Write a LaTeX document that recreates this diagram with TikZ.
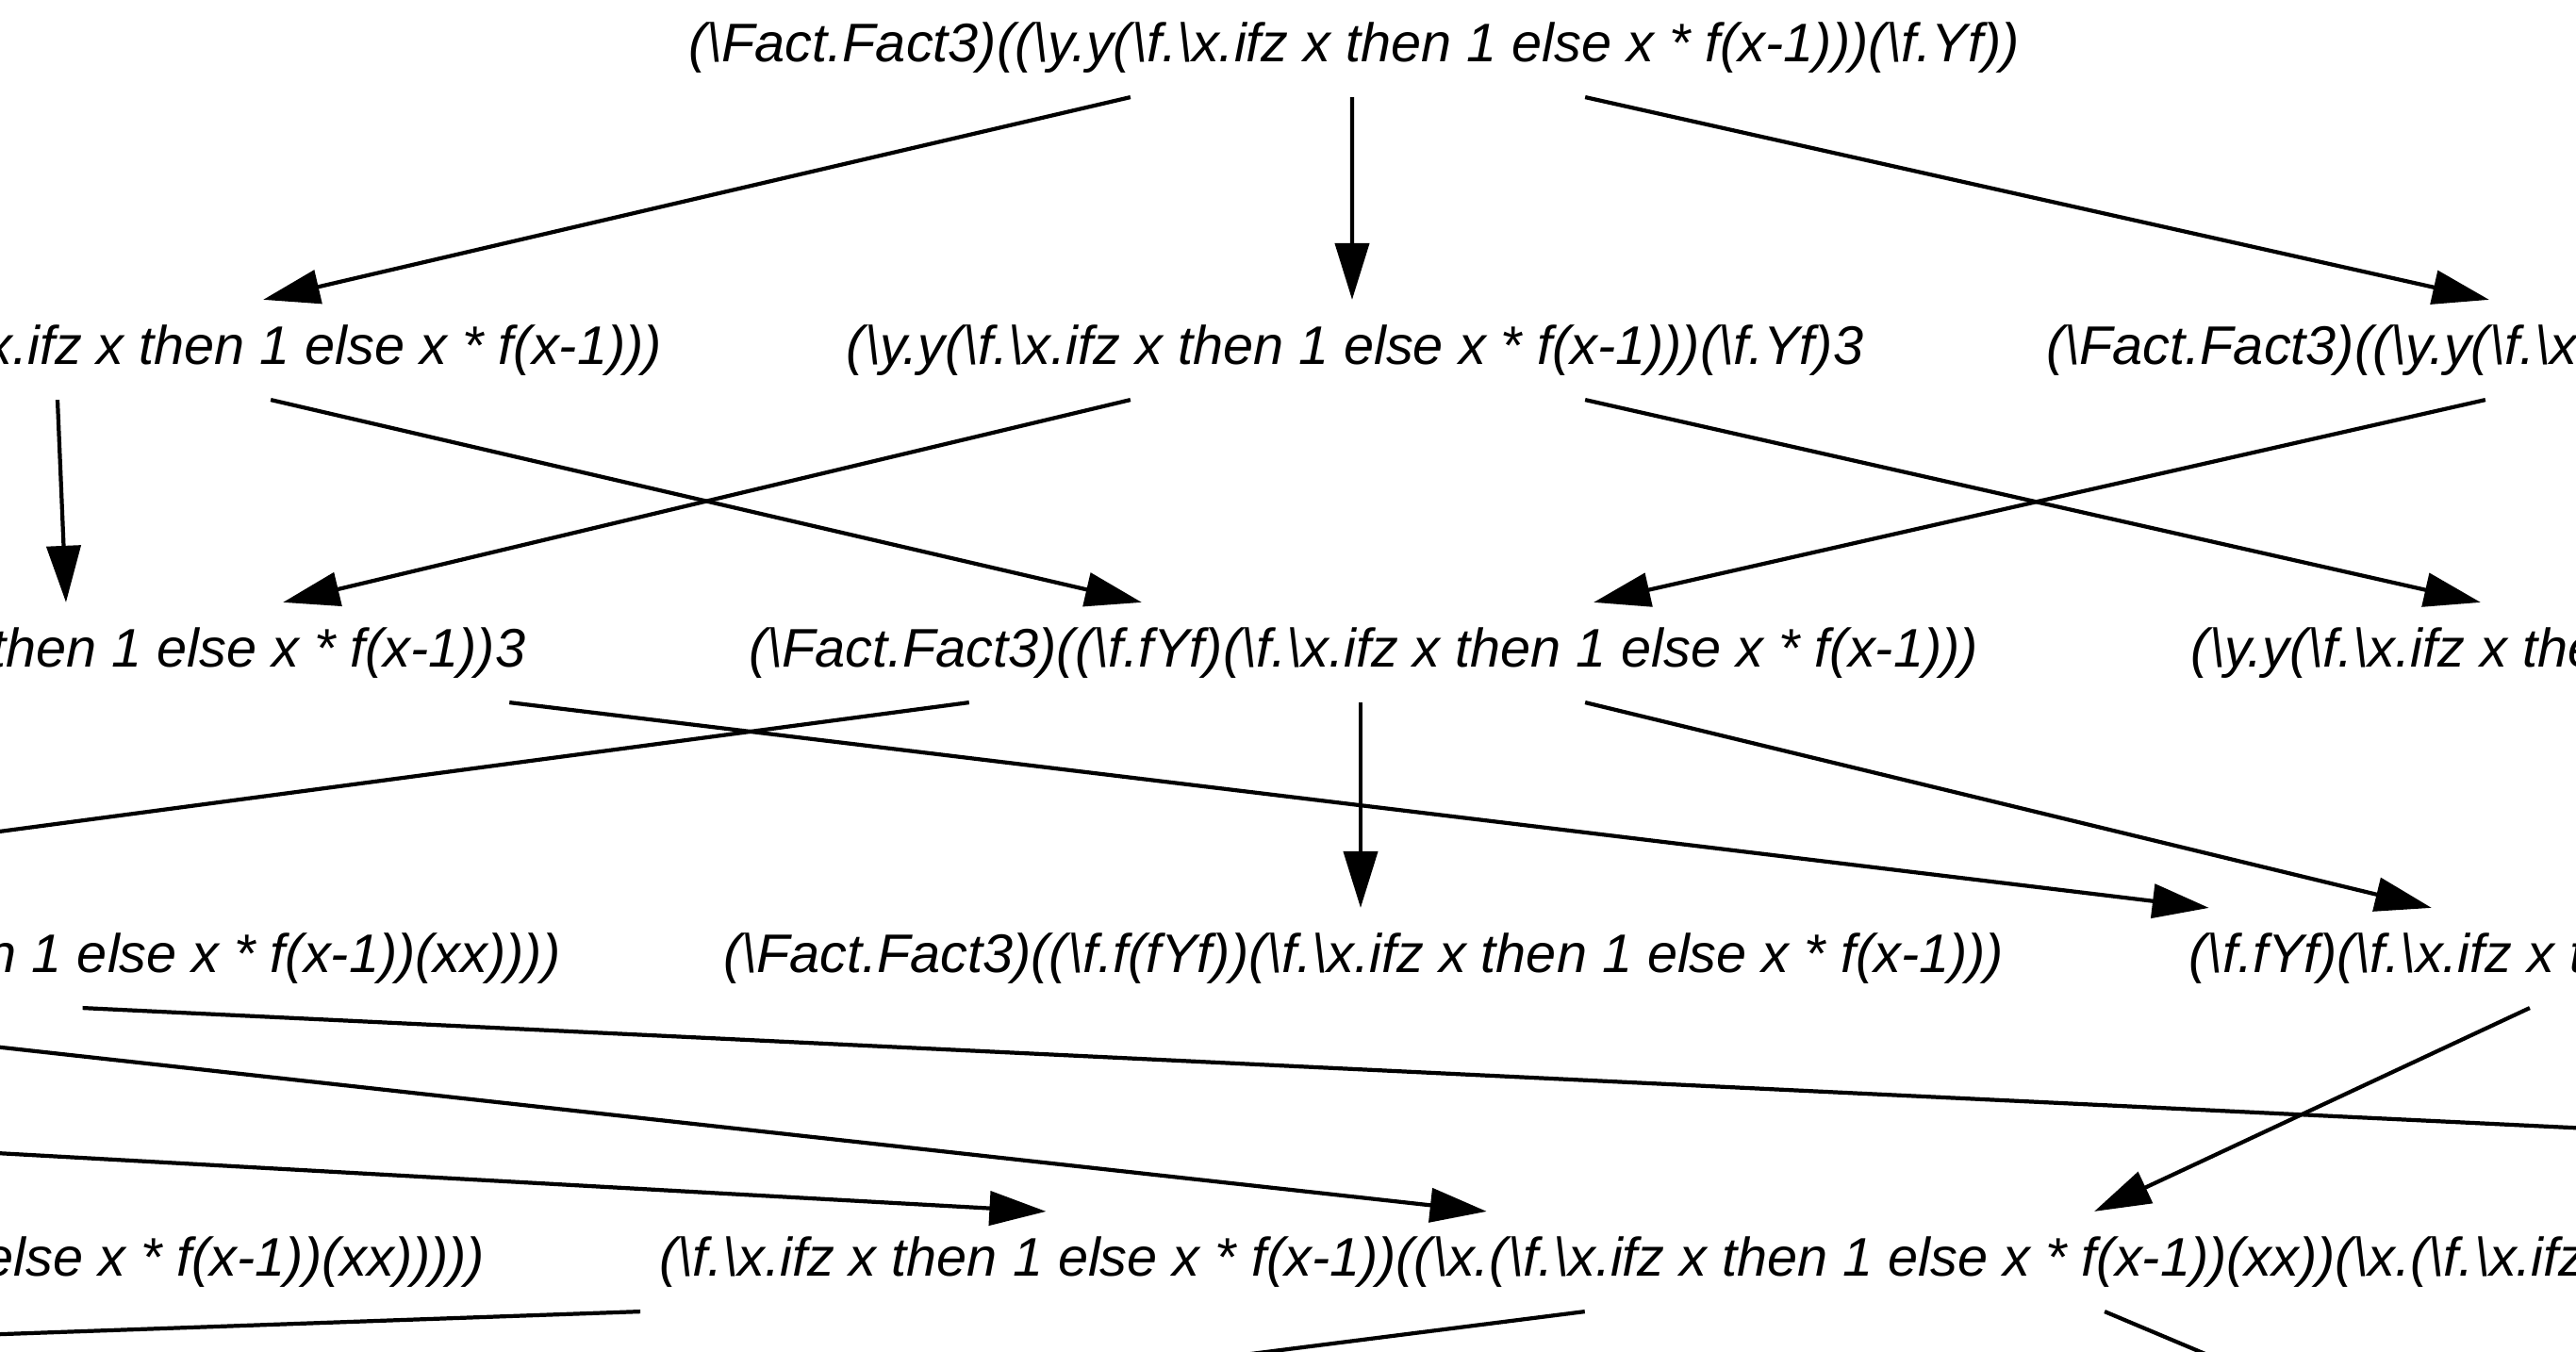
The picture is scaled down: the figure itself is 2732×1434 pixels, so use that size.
\documentclass[tikz,border=0pt]{standalone}
\usepackage{fontspec}
\setmainfont{Liberation Sans}
\usetikzlibrary{arrows.meta}
\newcommand{\lam}{\textbackslash}
\newcommand{\fn}{(\lam f.\lam x.ifz x then 1 else x * f(x-1))}
\tikzset{term/.style={font=\fontsize{16.39pt}{20pt}\selectfont\itshape,
    inner xsep=0pt, inner ysep=0.23cm, text height=0.432cm, text depth=0.127cm}}
\begin{document}
\begin{tikzpicture}[x=0.01cm, y=-0.01cm, >={Triangle[length=0.6cm,width=0.36cm]}, line width=1.2pt]
    \useasboundingbox (0,0) rectangle (2732,1434);
    \clip (0,0) rectangle (2732,1434);
    \fill[white] (0,0) rectangle (2732,1434);
    % terms, row by row
    \node[term] (r1) at (1436,50) {(\lam Fact.Fact3)((\lam y.y\fn)(\lam f.Yf))};
    \node[term] (r2a) at (58,371) {(\lam Fact.Fact3)((\lam f.Yf)\fn)};
    \node[term] (r2b) at (1437,371) {(\lam y.y\fn)(\lam f.Yf)3};
    \node[term] (r2c) at (2884,371) {(\lam Fact.Fact3)((\lam y.y\fn)(\lam f.fYf))};
    \node[term] (r3a) at (80,692) {(\lam f.Yf)\fn3};
    \node[term] (r3b) at (1446,692) {(\lam Fact.Fact3)((\lam f.fYf)\fn)};
    \node[term] (r3c) at (2871,692) {(\lam y.y\fn)(\lam f.fYf)3};
    \node[term] (r4a) at (-975,1016) {(\lam Fact.Fact3)(\fn((\lam x.\fn(xx))(\lam x.\fn(xx))))};
    \node[term] (r4b) at (1446,1016) {(\lam Fact.Fact3)((\lam f.f(fYf))\fn)};
    \node[term] (r4c) at (2807,1016) {(\lam f.fYf)\fn3};
    \node[term] (r5a) at (-1465,1338) {(\lam Fact.Fact3)(\fn(\fn((\lam x.\fn(xx))(\lam x.\fn(xx)))))};
    \node[term] (r5b) at (2102,1338) {\fn((\lam x.\fn(xx))(\lam x.\fn(xx)))3};
    % ends outside the frame
    \coordinate (r4z) at (-2829,1066);
    \coordinate (r5c) at (4639,1288);
    \coordinate (r6a) at (-2000,1486);
    \coordinate (r6b) at (121,1589);
    \coordinate (r6c) at (2702,1589);
    % reductions
    \draw[->] ([xshift=-2.37cm]r1.south) -- ([xshift=2.21cm]r2a.north);
    \draw[->] ([xshift=-0.02cm]r1.south) -- ([xshift=-0.03cm]r2b.north);
    \draw[->] ([xshift=2.45cm]r1.south) -- ([xshift=-2.44cm]r2c.north);
    \draw[->] ([xshift=0.03cm]r2a.south) -- ([xshift=-0.10cm]r3a.north);
    \draw[->] ([xshift=2.29cm]r2a.south) -- ([xshift=-2.35cm]r3b.north);
    \draw[->] ([xshift=-2.38cm]r2b.south) -- ([xshift=2.20cm]r3a.north);
    \draw[->] ([xshift=2.44cm]r2b.south) -- ([xshift=-2.40cm]r3c.north);
    \draw[->] ([xshift=-2.48cm]r2c.south) -- ([xshift=2.44cm]r3b.north);
    \draw[->] ([xshift=-4.18cm]r3b.south) -- ([xshift=3.66cm]r4a.north);
    \draw[->] ([xshift=-0.03cm]r3b.south) -- ([xshift=-0.03cm]r4b.north);
    \draw[->] ([xshift=2.35cm]r3b.south) -- ([xshift=-2.28cm]r4c.north);
    \draw[->] ([xshift=4.60cm]r3a.south) -- ([xshift=-4.64cm]r4c.north);
    \draw[->] ([xshift=10.62cm]r4a.south) -- (r5c);
    \draw[->] ([xshift=5.97cm]r4a.south) -- ([xshift=-5.25cm]r5b.north);
    \draw[->] (r4z) -- ([xshift=-9.92cm]r5b.north);
    \draw[->] ([xshift=-1.24cm]r4c.south) -- ([xshift=1.19cm]r5b.north);
    \draw[->] ([xshift=-14.22cm]r5b.south) -- (r6a);
    \draw[->] ([xshift=-4.21cm]r5b.south) -- (r6b);
    \draw[->] ([xshift=1.30cm]r5b.south) -- (r6c);
\end{tikzpicture}
\end{document}
